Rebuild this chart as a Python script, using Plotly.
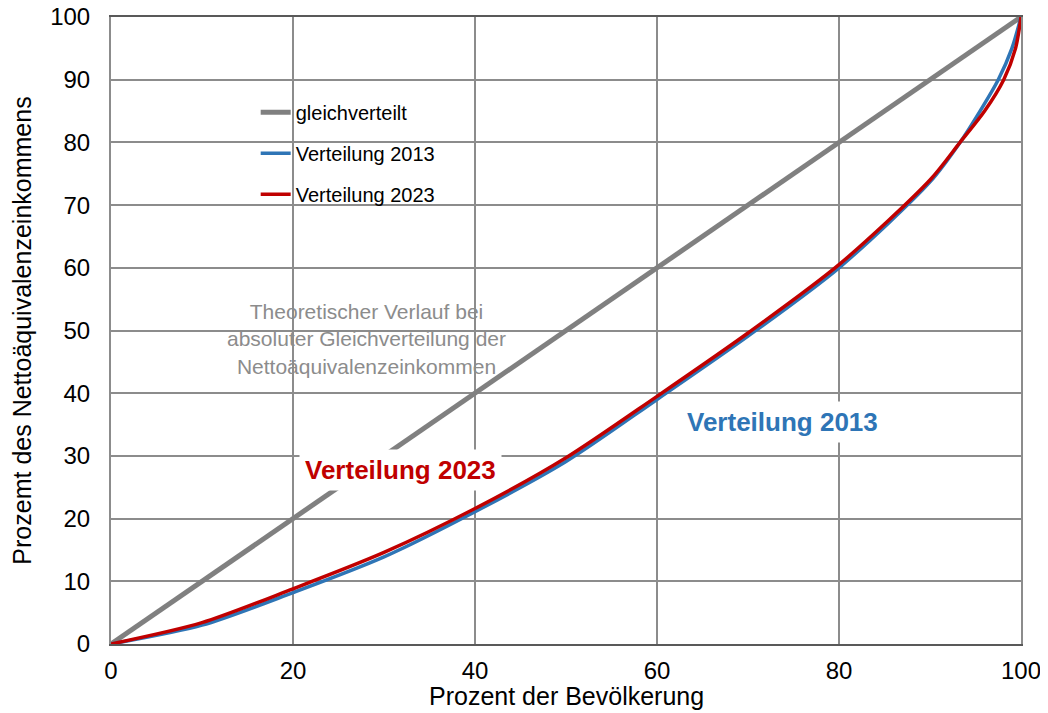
import plotly.graph_objects as go

# Lorenzkurven: Anteil der Bevölkerung (x) vs. Anteil am Nettoäquivalenzeinkommen (y)
gleich_x = [0, 100]
gleich_y = [0, 100]

x_2013 = [0, 10, 20, 30, 40, 50, 60, 70, 80, 90, 93.3, 95.5, 97.5, 99.0, 100]
y_2013 = [0, 3.0, 8.2, 13.9, 21.1, 29.1, 39.0, 49.1, 60.0, 73.7, 80, 85, 90, 95, 100]

x_2023 = [0, 10, 20, 30, 40, 50, 60, 70, 80, 90, 93.3, 96.0, 98.1, 99.4, 100]
y_2023 = [0, 3.4, 8.8, 14.6, 21.6, 29.7, 39.5, 49.6, 60.5, 74.0, 80, 85, 90, 95, 100]

GRAU = "#808080"
BLAU = "#2E75B6"
ROT = "#C00000"
FONT = "Liberation Sans, Arial, sans-serif"

fig = go.Figure()
fig.add_trace(go.Scatter(x=gleich_x, y=gleich_y, mode="lines", name="gleichverteilt",
                         line=dict(color=GRAU, width=5), legendgroup="a"))
fig.add_trace(go.Scatter(x=x_2013, y=y_2013, mode="lines", name="Verteilung 2013",
                         line=dict(color=BLAU, width=3.5, shape="spline", smoothing=0.8),
                         legendgroup="b"))
fig.add_trace(go.Scatter(x=x_2023, y=y_2023, mode="lines", name="Verteilung 2023",
                         line=dict(color=ROT, width=3.5, shape="spline", smoothing=0.8),
                         legendgroup="c"))

fig.add_annotation(x=28.1, y=48.6, showarrow=False, align="center",
                   text="Theoretischer Verlauf bei<br>absoluter Gleichverteilung der<br>Nettoäquivalenzeinkommen",
                   font=dict(family=FONT, size=21, color="#8c8c8c"))
fig.add_annotation(x=31.8, y=27.8, showarrow=False, text="<b>Verteilung 2023</b>",
                   font=dict(family=FONT, size=26, color=ROT),
                   bgcolor="white", borderpad=5)
fig.add_annotation(x=73.8, y=35.4, showarrow=False, text="<b>Verteilung 2013</b>",
                   font=dict(family=FONT, size=26, color=BLAU),
                   bgcolor="white", borderpad=5)
# x-Achsentitel als Annotation, damit er dicht unter den Ticks sitzt
fig.add_annotation(x=0.5, y=-0.083, xref="paper", yref="paper", showarrow=False,
                   yanchor="middle", text="Prozent der Bevölkerung",
                   font=dict(family=FONT, size=25, color="black"))

axis = dict(range=[0, 100], showgrid=True, gridcolor="#8c8c8c", gridwidth=2,
            zeroline=False, showline=True, linewidth=2, mirror=True,
            ticks="", automargin=False, ticklabeloverflow="allow",
            tickfont=dict(family=FONT, size=24, color="black"))

fig.update_xaxes(**axis, dtick=20, linecolor="#595959", ticklabelstandoff=4)
fig.update_yaxes(**axis, dtick=10, linecolor="#8c8c8c", ticklabelstandoff=14,
                 title=dict(text="Prozemt des Nettoäquivalenzeinkommens", standoff=12,
                            font=dict(family=FONT, size=25, color="black")))

# die Seite hat 8px Rand, daher etwas kleinere Figur
fig.update_layout(
    width=1040, height=705,
    margin=dict(l=103, r=27, t=9, b=69),
    plot_bgcolor="white", paper_bgcolor="white",
    font=dict(family=FONT, color="black"),
    showlegend=True,
    legend=dict(x=0.159, y=0.879, xanchor="left", yanchor="top",
                bgcolor="rgba(0,0,0,0)", tracegroupgap=12,
                font=dict(family=FONT, size=20, color="black")),
)

fig.write_html("out.html")
